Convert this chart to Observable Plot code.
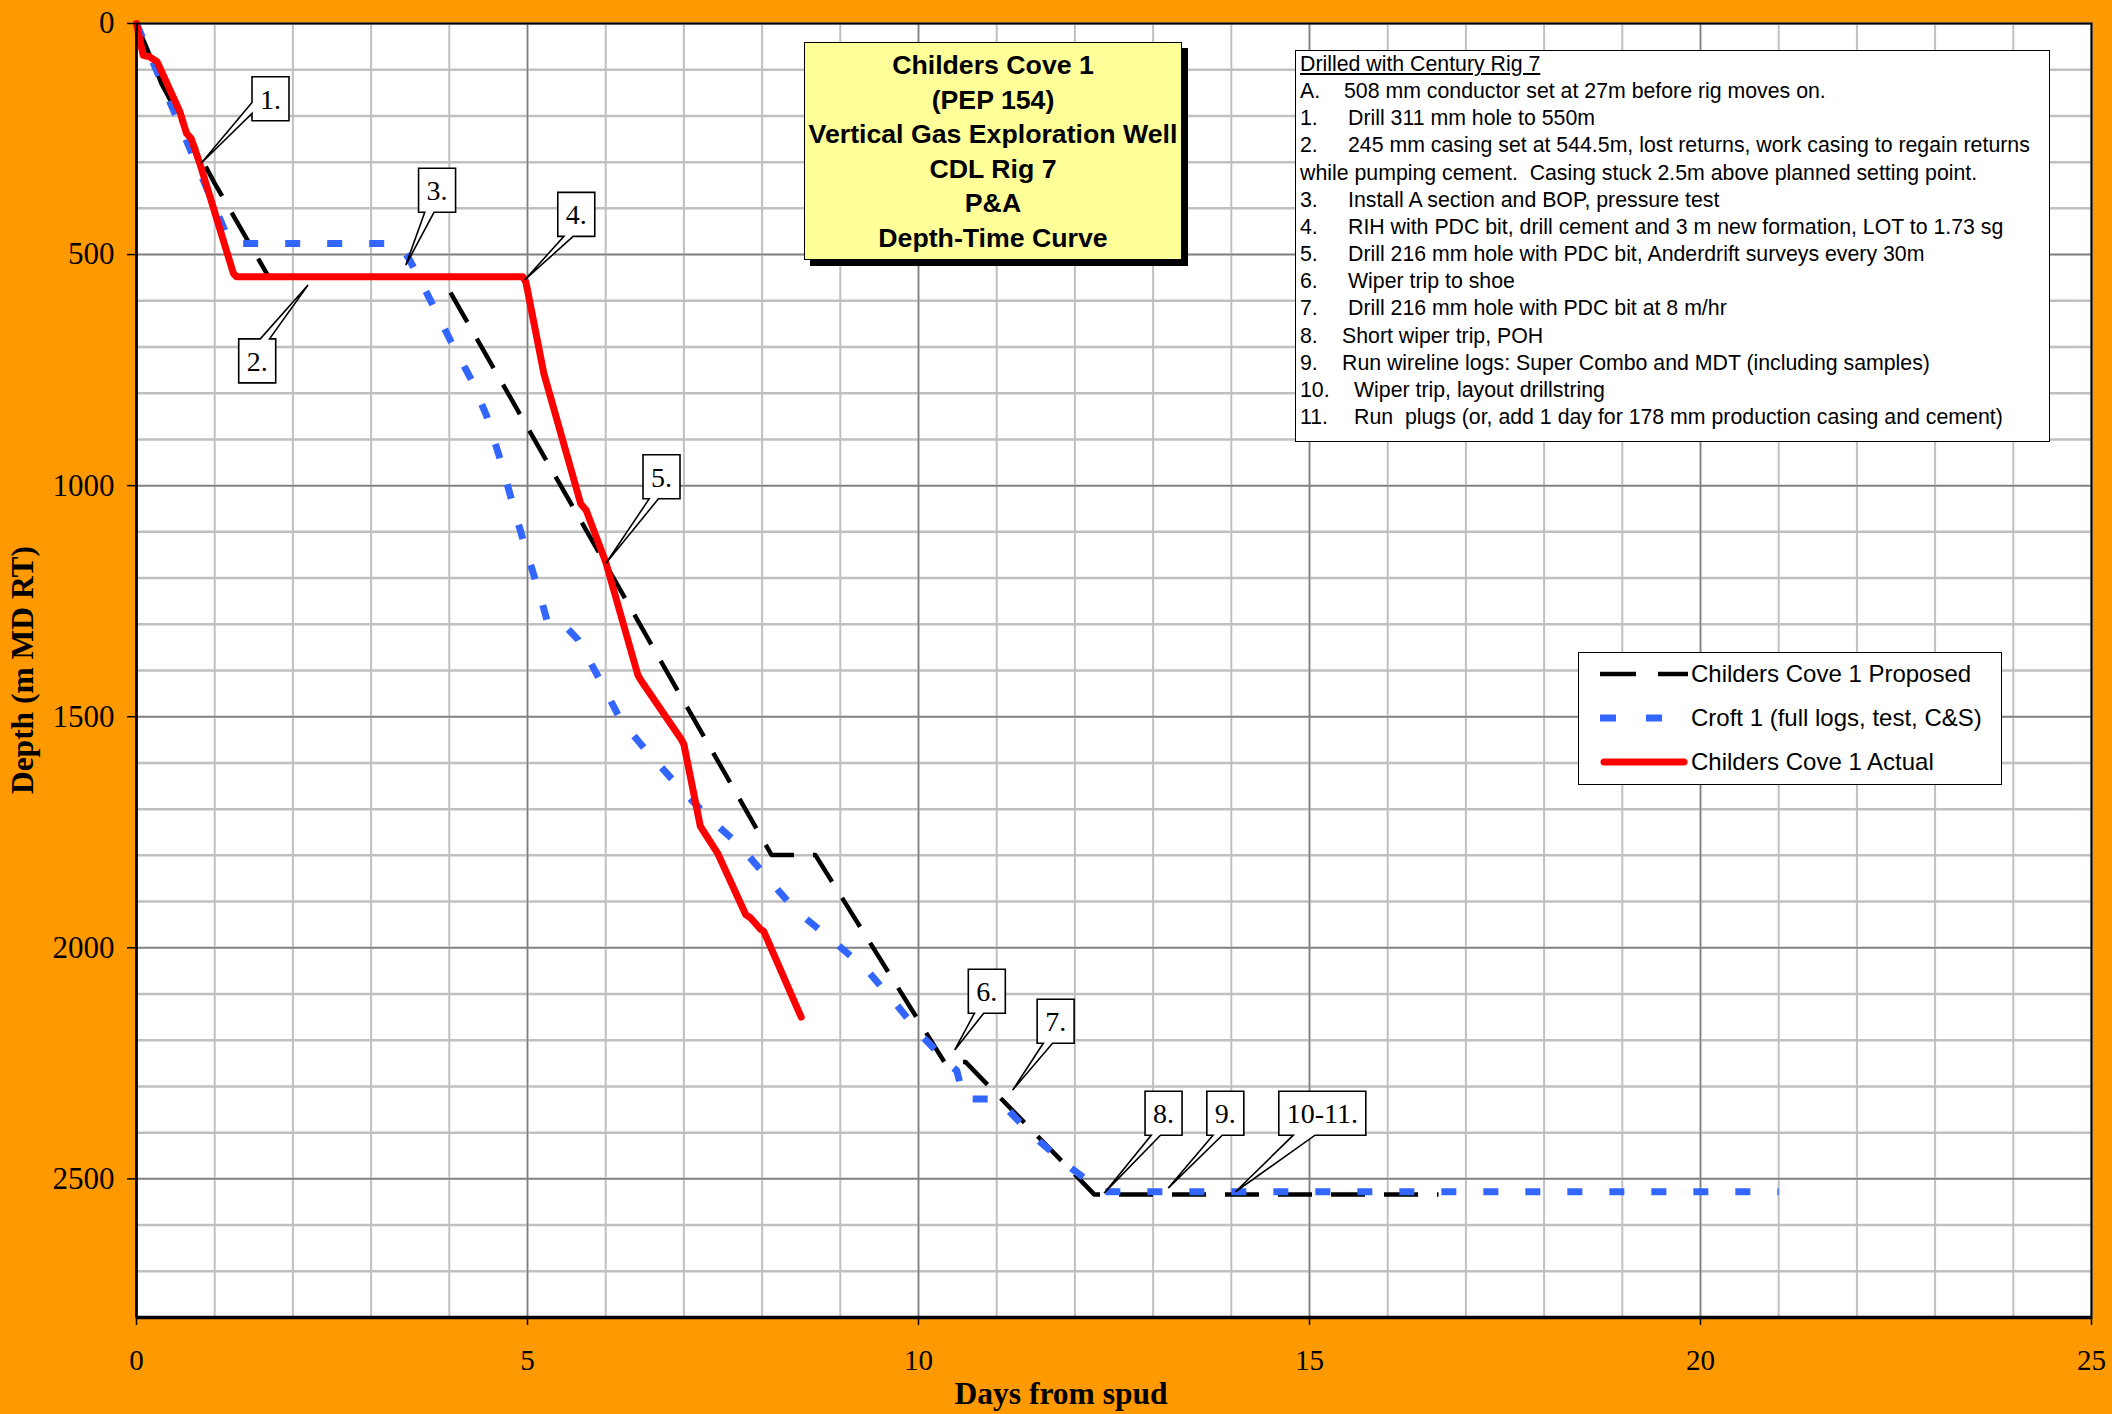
<!DOCTYPE html>
<html><head><meta charset="utf-8">
<script src="https://cdn.jsdelivr.net/npm/d3@7"></script>
<script src="https://cdn.jsdelivr.net/npm/@observablehq/plot@0.6"></script>
<style>
html,body{margin:0;padding:0;background:#FF9900;}
#wrap{position:relative;width:2112px;height:1414px;background:#FF9900;overflow:hidden;}
.box{position:absolute;box-sizing:border-box;border:1.5px solid #000;}
#title{left:804px;top:42px;width:378px;height:218px;background:#FFFF99;box-shadow:6px 6px 0 #000;font:bold 26.7px 'Liberation Sans',Arial,sans-serif;text-align:center;line-height:34.6px;padding-top:5px;color:#000;}
#notes{left:1295px;top:50px;width:755px;height:392px;background:#fff;font:21.3px 'Liberation Sans',Arial,sans-serif;line-height:27.15px;padding:0 0 0 4px;white-space:pre;color:#000;}
#notes .k{display:inline-block;}
#legend{left:1578px;top:652px;width:424px;height:133px;background:#fff;font:24px 'Liberation Sans',Arial,sans-serif;color:#000;}
.lg{position:absolute;left:21px;height:44px;display:flex;align-items:center;white-space:nowrap;}
.lg svg{margin-right:3px;}
.axlabel{position:absolute;font:bold 31.5px 'Liberation Serif','Times New Roman',serif;white-space:nowrap;color:#000;}
</style></head>
<body><div id="wrap"></div>
<script>
// ---------- data ----------
const xTicks = [0, 5, 10, 15, 20, 25];
const yTicks = [0, 500, 1000, 1500, 2000, 2500];
const minorDays = d3.range(0, 26, 1);
const minorDepths = d3.range(0, 2900, 100);

const proposedDay   = [0, 0.32, 1.0, 1.69, 3.9, 8.12, 8.68, 10.33, 10.6, 12.25, 16.65];
const proposedDepth = [0, 130, 346, 548, 548, 1799, 1799, 2247, 2247, 2534, 2534];

const croftDay   = [0, 1.2, 3.33, 3.475, 3.75, 4.015, 4.285, 4.475, 4.655, 4.815, 4.975, 5.15, 5.26, 5.45, 5.645, 5.925, 6.2, 6.52, 6.91, 7.33, 7.71, 8.1, 8.43, 8.9, 9.34, 9.67, 10.05, 10.4, 10.49, 10.58, 11.0, 11.1, 11.47, 11.93, 12.35, 21.0];
const croftDepth = [0, 476, 476, 506, 596, 686, 772, 848, 945, 1042, 1136, 1231, 1298, 1298, 1333, 1420, 1510, 1573, 1647, 1721, 1778, 1855, 1919, 1984, 2048, 2113, 2192, 2253, 2266, 2327, 2327, 2343, 2408, 2474, 2528, 2528];

const actualDay   = [0, 0.085, 0.17, 0.265, 0.555, 0.64, 0.70, 0.81, 1.24, 1.28, 4.94, 4.98, 5.21, 5.68, 5.75, 6.0, 6.41, 6.45, 6.97, 7.0, 7.21, 7.43, 7.79, 7.85, 7.98, 8.02, 8.5];
const actualDepth = [0, 69, 72, 83, 191, 238, 249, 303, 541, 548, 548, 560, 758, 1039, 1053, 1165, 1409, 1421, 1550, 1560, 1737, 1795, 1928, 1935, 1960, 1964, 2150];

const seriesNames = ["Childers Cove 1 Proposed", "Croft 1 (full logs, test, C&S)", "Childers Cove 1 Actual"];

const calloutLabels   = ["1.", "2.", "3.", "4.", "5.", "6.", "7.", "8.", "9.", "10-11."];
const calloutBoxDay   = [1.72, 1.55, 3.85, 5.63, 6.72, 10.88, 11.76, 13.14, 13.93, 15.17];
const calloutBoxDepth = [164, 731, 362, 414, 982, 2095, 2160, 2359, 2359, 2359];
const calloutTipDay   = [0.83, 2.2, 3.45, 4.97, 6.01, 10.47, 11.21, 12.38, 13.2, 14.06];
const calloutTipDepth = [304, 567, 524, 556, 1169, 2222, 2309, 2532, 2521, 2529];

const titleLines = ["Childers Cove 1", "(PEP 154)", "Vertical Gas Exploration Well", "CDL Rig 7", "P&A", "Depth-Time Curve"];
const notesTitle = "Drilled with Century Rig 7";
const noteKeys  = ["A.", "1.", "2.", "", "3.", "4.", "5.", "6.", "7.", "8.", "9.", "10.", "11."];
const noteTexts = [
  "508 mm conductor set at 27m before rig moves on.",
  "Drill 311 mm hole to 550m",
  "245 mm casing set at 544.5m, lost returns, work casing to regain returns",
  "while pumping cement.  Casing stuck 2.5m above planned setting point.",
  "Install A section and BOP, pressure test",
  "RIH with PDC bit, drill cement and 3 m new formation, LOT to 1.73 sg",
  "Drill 216 mm hole with PDC bit, Anderdrift surveys every 30m",
  "Wiper trip to shoe",
  "Drill 216 mm hole with PDC bit at 8 m/hr",
  "Short wiper trip, POH",
  "Run wireline logs: Super Combo and MDT (including samples)",
  "Wiper trip, layout drillstring",
  "Run  plugs (or, add 1 day for 178 mm production casing and cement)"
];
const noteIndent = [44, 48, 48, 0, 48, 48, 48, 48, 48, 42, 42, 54, 54];
const xLabel = "Days from spud";
const yLabel = "Depth (m MD RT)";

// ---------- styles ----------
const styles = [
  {stroke: "#000000", strokeWidth: 4.5, dash: "34,19", cap: "butt"},
  {stroke: "#3366FF", strokeWidth: 7, dash: "15,27", cap: "butt"},
  {stroke: "#FF0000", strokeWidth: 7, dash: null, cap: "round"}
];

const proposed = proposedDay.map((d, i) => ({day: d, depth: proposedDepth[i]}));
const croft = croftDay.map((d, i) => ({day: d, depth: croftDepth[i]}));
const actual = actualDay.map((d, i) => ({day: d, depth: actualDepth[i]}));
const series = [proposed, croft, actual];

const fmt = d => String(d);
const chart = Plot.plot({
  width: 2112, height: 1414,
  marginLeft: 136, marginRight: 21, marginTop: 23, marginBottom: 97,
  style: {background: "transparent", fontFamily: "'Liberation Serif','Times New Roman',serif", color: "#000", overflow: "visible"},
  x: {domain: [0, 25]},
  y: {domain: [0, 2800], reverse: true},
  marks: [
    Plot.frame({fill: "#ffffff", stroke: null}),
    Plot.ruleX(minorDays, {stroke: "#c0c0c0", strokeWidth: 2}),
    Plot.ruleY(minorDepths, {stroke: "#c0c0c0", strokeWidth: 2.5}),
    Plot.ruleX(xTicks, {stroke: "#808080", strokeWidth: 1.5}),
    Plot.ruleY(yTicks, {stroke: "#808080", strokeWidth: 1.5}),
    ...series.map((s, i) => Plot.line(s, {
      x: "day", y: "depth", stroke: styles[i].stroke, strokeWidth: styles[i].strokeWidth,
      strokeDasharray: styles[i].dash, strokeLinecap: styles[i].cap, strokeLinejoin: "round"
    })),
    Plot.frame({stroke: "#000", strokeWidth: 2}),
    Plot.ruleY([2800], {stroke: "#000", strokeWidth: 3.5}),
    Plot.ruleX([0], {stroke: "#000", strokeWidth: 2.5}),
    Plot.axisX({ticks: xTicks, tickSize: 8, tickPadding: 24, fontSize: 29, tickFormat: fmt, label: null, strokeWidth: 1.5}),
    Plot.axisY({ticks: yTicks, tickSize: 9, tickPadding: 13, fontSize: 31, tickFormat: fmt, label: null, strokeWidth: 1.5})
  ]
});
chart.style.position = "absolute";
chart.style.left = "0px";
chart.style.top = "0px";
const wrap = document.getElementById("wrap");
wrap.appendChild(chart);

// ---------- callouts (positioned through the plot's scales) ----------
const sx = chart.scale("x"), sy = chart.scale("y");
const ctx = document.createElement("canvas").getContext("2d");
ctx.font = "28px 'Liberation Serif'";
const cg = d3.select(chart).append("g").attr("class", "callouts");
calloutLabels.forEach((lab, i) => {
  const cx = sx.apply(calloutBoxDay[i]), cy = sy.apply(calloutBoxDepth[i]);
  const tx = sx.apply(calloutTipDay[i]), ty = sy.apply(calloutTipDepth[i]);
  const w = Math.round(ctx.measureText(lab).width + 16), h = 44;
  const l = cx - w / 2, t = cy - h / 2, r = l + w, b = t + h;
  const dxPos = tx - cx, dyPos = ty - cy;
  let p;
  if (Math.abs(dxPos) * h > Math.abs(dyPos) * w) {
    const y1 = t + h * (dyPos > 0 ? 7 : 2) / 12, y2 = t + h * (dyPos > 0 ? 10 : 5) / 12;
    if (dxPos < 0) p = [[l, t], [r, t], [r, b], [l, b], [l, y2], [tx, ty], [l, y1]];
    else p = [[l, t], [r, t], [r, y1], [tx, ty], [r, y2], [r, b], [l, b]];
  } else {
    const x1 = l + w * (dxPos > 0 ? 7 : 2) / 12, x2 = l + w * (dxPos > 0 ? 10 : 5) / 12;
    if (dyPos > 0) p = [[l, t], [r, t], [r, b], [x2, b], [tx, ty], [x1, b], [l, b]];
    else p = [[l, t], [x1, t], [tx, ty], [x2, t], [r, t], [r, b], [l, b]];
  }
  cg.append("path").attr("d", "M" + p.map(q => q.join(",")).join("L") + "Z")
    .attr("fill", "#fff").attr("stroke", "#000").attr("stroke-width", 1.6).attr("stroke-linejoin", "miter");
  cg.append("text").attr("x", cx).attr("y", cy).attr("dy", "0.35em").attr("text-anchor", "middle")
    .attr("font-size", 28).attr("font-family", "'Liberation Serif','Times New Roman',serif").attr("fill", "#000").text(lab);
});

// ---------- title box ----------
const tb = document.createElement("div");
tb.className = "box"; tb.id = "title";
tb.innerHTML = titleLines.map(s => "<div>" + s.replace(/&/g, "&amp;") + "</div>").join("");
wrap.appendChild(tb);

// ---------- notes box ----------
const nb = document.createElement("div");
nb.className = "box"; nb.id = "notes";
let html = "<div style='text-decoration:underline'>" + notesTitle + "</div>";
noteTexts.forEach((s, i) => {
  html += "<div><span class='k' style='width:" + noteIndent[i] + "px'>" + noteKeys[i] + "</span>" + s + "</div>";
});
nb.innerHTML = html;
wrap.appendChild(nb);

// ---------- legend ----------
const lb = document.createElement("div");
lb.className = "box"; lb.id = "legend";
seriesNames.forEach((name, i) => {
  const st = styles[i];
  const row = document.createElement("div");
  row.className = "lg";
  row.style.top = (-1 + i * 44) + "px";
  row.innerHTML = "<svg width='88' height='20'><line x1='" + (st.cap === "round" ? 4 : 0) + "' y1='10' x2='" + (st.cap === "round" ? 84 : 88) + "' y2='10' stroke='" + st.stroke +
    "' stroke-width='" + st.strokeWidth + "' stroke-linecap='" + st.cap + "'" + (st.dash ? " stroke-dasharray='" + (i === 0 ? "36,22" : "16,30") + "'" : "") + "/></svg><span>" + name.replace(/&/g, "&amp;") + "</span>";
  lb.appendChild(row);
});
wrap.appendChild(lb);

// ---------- axis titles ----------
const xl = document.createElement("div");
xl.className = "axlabel"; xl.textContent = xLabel;
xl.style.left = "1061px"; xl.style.top = "1394px"; xl.style.transform = "translate(-50%,-50%)";
wrap.appendChild(xl);
const yl = document.createElement("div");
yl.className = "axlabel"; yl.textContent = yLabel;
yl.style.left = "23px"; yl.style.top = "670px"; yl.style.transform = "translate(-50%,-50%) rotate(-90deg)";
wrap.appendChild(yl);
</script></body></html>
